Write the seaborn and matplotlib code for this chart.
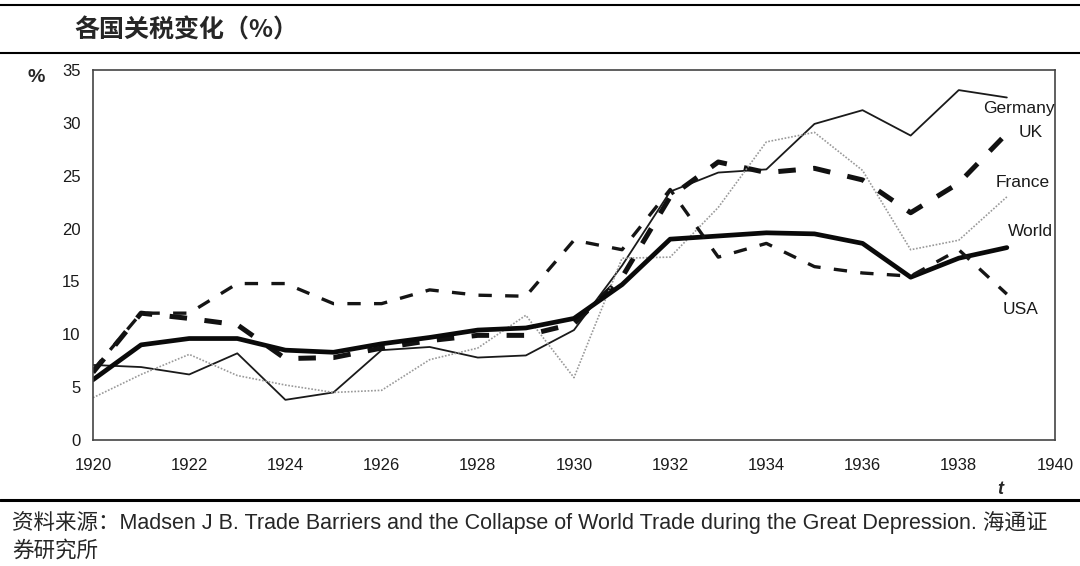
import pandas as pd
import seaborn as sns
import matplotlib.pyplot as plt
from matplotlib.lines import Line2D

years = list(range(1920, 1940))
germany = [7.1, 6.9, 6.2, 8.2, 3.8, 4.5, 8.5, 8.8, 7.8, 8.0, 10.4, 16.5,
           23.5, 25.3, 25.6, 29.9, 31.2, 28.8, 33.1, 32.4]
uk = [6.4, 12.0, 11.5, 10.9, 7.7, 7.8, 8.7, 9.4, 9.9, 9.9, 11.0, 15.4,
      23.0, 26.3, 25.3, 25.7, 24.6, 21.5, 24.3, 29.0]
france = [4.0, 6.2, 8.1, 6.1, 5.2, 4.5, 4.7, 7.6, 8.7, 11.8, 5.9, 17.2,
          17.3, 22.0, 28.2, 29.1, 25.5, 18.0, 18.9, 23.0]
world = [5.7, 9.0, 9.6, 9.6, 8.5, 8.3, 9.1, 9.7, 10.4, 10.6, 11.5, 14.7,
         19.0, 19.3, 19.6, 19.5, 18.6, 15.4, 17.2, 18.2]
usa = [6.6, 12.0, 12.0, 14.8, 14.8, 12.9, 12.9, 14.2, 13.7, 13.6, 18.9, 18.0,
       23.7, 17.3, 18.6, 16.4, 15.8, 15.5, 18.0, 13.8]

series = {"Germany": germany, "UK": uk, "France": france, "World": world, "USA": usa}
styles = {
    "Germany": dict(color="#1a1a1a", lw=1.3, ls="-"),
    "UK": dict(color="#111111", lw=3.6, ls=(0, (3.5, 3.5))),
    "France": dict(color="#999999", lw=1.2, ls=(0, (1, 1))),
    "World": dict(color="#0a0a0a", lw=3.4, ls="-"),
    "USA": dict(color="#151515", lw=2.4, ls=(0, (4, 4))),
}
# label anchors (right edge)
label_pos = {"Germany": (1940.0, 31.4), "UK": (1939.75, 29.1), "France": (1939.9, 24.4),
             "World": (1939.95, 19.7), "USA": (1939.65, 12.3)}

df = pd.DataFrame({"year": years * len(series),
                   "value": sum(series.values(), []),
                   "country": [k for k in series for _ in years]})

sns.set_theme(style="white")
plt.rcParams["font.family"] = ["Liberation Sans", "Noto Sans CJK SC", "DejaVu Sans"]

fig = plt.figure(figsize=(10.8, 5.66), dpi=100)
ax = fig.add_axes([0.0861, 0.2226, 0.8907, 0.6537])

for name in series:
    st = styles[name]
    sns.lineplot(data=df[df["country"] == name], x="year", y="value", ax=ax,
                 color=st["color"], linewidth=st["lw"], linestyle=st["ls"],
                 legend=False)
    x, y = label_pos[name]
    ax.text(x, y, name, fontsize=12.5, color="#1a1a1a", ha="right", va="center")

ax.set_xlim(1920, 1940)
ax.set_ylim(0, 35)
ax.set_xticks(range(1920, 1941, 2))
ax.set_yticks(range(0, 36, 5))
ax.tick_params(axis="both", which="both", direction="out", length=4, width=1,
               color="#333333", labelsize=12, labelcolor="#1a1a1a", pad=5)
ax.tick_params(axis="x", pad=9)
ax.set_xlabel("")
ax.set_ylabel("")
for sp in ax.spines.values():
    sp.set_color("#444444")
    sp.set_linewidth(1.2)

fig.text(36 / 1080, 1 - 77 / 566, "%", fontsize=14, fontweight="bold", ha="center", va="center")
fig.text(1000 / 1080, 1 - 490 / 566, "t", fontsize=13, fontweight="bold", style="italic",
         ha="center", va="center")

fig.text(74 / 1080, 1 - 30 / 566, "各国关税变化（%）", fontsize=18, fontweight="bold",
         family=["Noto Sans CJK SC", "DejaVu Sans"], ha="left", va="center")
fig.text(12 / 1080, 1 - 523 / 566,
         "资料来源：Madsen J B. Trade Barriers and the Collapse of World Trade during the Great Depression. 海通证",
         fontsize=15.5, family=["Liberation Sans", "Noto Sans CJK SC"], ha="left", va="center")
fig.text(12 / 1080, 1 - 551 / 566, "券研究所", fontsize=15.5,
         family=["Noto Sans CJK SC", "DejaVu Sans"], ha="left", va="center")

for ypix, lw in [(5, 1.5), (53, 1.5), (500, 2.2)]:
    yy = 1 - ypix / 566
    fig.add_artist(Line2D([0, 1], [yy, yy], transform=fig.transFigure, color="black", lw=lw))

fig.savefig("out.png", dpi=100)
